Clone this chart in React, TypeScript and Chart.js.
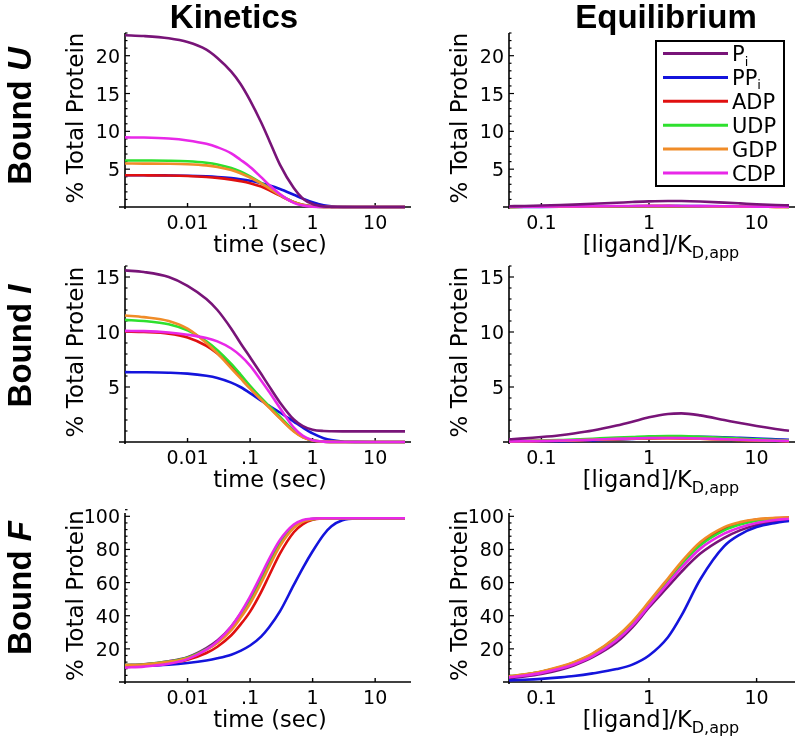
import React, { useEffect, useRef } from "react";
import { Chart, registerables } from "chart.js";

Chart.register(...registerables);

// ---------- series meta ----------
const seriesNames = ["Pi", "PPi", "ADP", "UDP", "GDP", "CDP"];
const seriesColors = ["#781478", "#1414dc", "#e01010", "#2ee02e", "#f08c28", "#e828e8"];

// ---------- x grids ----------
const kinTime = [0.001, 0.002, 0.005, 0.01, 0.02, 0.03, 0.05, 0.07, 0.1, 0.15, 0.2, 0.3, 0.5, 0.7, 1, 1.5, 2, 3, 5, 10, 30];
const eqRatio = [0.05, 0.07, 0.1, 0.15, 0.2, 0.3, 0.5, 0.7, 1, 1.5, 2, 3, 5, 7, 10, 15, 20];

// ---------- Kinetics, Bound U ----------
const kinU_Pi = [22.7, 22.6, 22.3, 21.8, 20.8, 19.7, 17.9, 16.3, 14.1, 11.2, 8.9, 5.6, 2.5, 1.1, 0.4, 0.08, 0.02, 0, 0, 0, 0];
const kinU_PPi = [4.2, 4.2, 4.17, 4.13, 4.05, 3.97, 3.82, 3.67, 3.47, 3.15, 2.87, 2.38, 1.62, 1.11, 0.63, 0.24, 0.09, 0.01, 0, 0, 0];
const kinU_ADP = [4.2, 4.19, 4.16, 4.1, 3.97, 3.85, 3.62, 3.42, 3.15, 2.7, 2.25, 1.5, 0.65, 0.3, 0.1, 0.02, 0, 0, 0, 0, 0];
const kinU_UDP = [6.15, 6.14, 6.12, 6.05, 5.85, 5.62, 5.15, 4.7, 4.05, 3.2, 2.55, 1.6, 0.65, 0.27, 0.07, 0.01, 0, 0, 0, 0, 0];
const kinU_GDP = [5.75, 5.74, 5.72, 5.66, 5.5, 5.3, 4.88, 4.47, 3.9, 3.12, 2.5, 1.57, 0.63, 0.26, 0.07, 0.01, 0, 0, 0, 0, 0];
const kinU_CDP = [9.2, 9.18, 9.05, 8.8, 8.35, 7.9, 7.1, 6.25, 5.3, 3.95, 2.95, 1.7, 0.55, 0.19, 0.04, 0, 0, 0, 0, 0, 0];

// ---------- Kinetics, Bound I ----------
const kinI_Pi = [15.6, 15.45, 15.0, 14.2, 13.0, 12.0, 10.3, 9.0, 7.7, 6.2, 5.1, 3.6, 2.05, 1.45, 1.12, 1.0, 0.98, 0.97, 0.97, 0.97, 0.97];
const kinI_PPi = [6.35, 6.34, 6.3, 6.22, 6.02, 5.82, 5.4, 5.0, 4.45, 3.75, 3.3, 2.68, 1.85, 1.3, 0.78, 0.35, 0.17, 0.05, 0.01, 0, 0];
const kinI_ADP = [10.05, 10.0, 9.85, 9.5, 8.75, 8.05, 6.9, 6.0, 4.95, 3.9, 3.2, 2.2, 1.0, 0.45, 0.14, 0.03, 0.01, 0, 0, 0, 0];
const kinI_UDP = [11.1, 11.0, 10.7, 10.15, 9.15, 8.35, 7.1, 6.15, 5.1, 4.0, 3.3, 2.3, 1.05, 0.47, 0.15, 0.03, 0.01, 0, 0, 0, 0];
const kinI_GDP = [11.5, 11.35, 11.0, 10.3, 9.0, 8.05, 6.7, 5.8, 4.85, 3.85, 3.15, 2.15, 0.95, 0.42, 0.13, 0.03, 0.01, 0, 0, 0, 0];
const kinI_CDP = [10.1, 10.08, 9.95, 9.75, 9.45, 9.15, 8.5, 7.85, 6.95, 5.6, 4.6, 3.1, 1.3, 0.55, 0.16, 0.03, 0.01, 0, 0, 0, 0];

// ---------- Kinetics, Bound F ----------
const kinF_Pi = [10.2, 10.7, 12.5, 15.0, 20.5, 25, 33.5, 41, 50.5, 63, 72.5, 84.5, 94.3, 97.3, 98.4, 98.8, 98.8, 98.8, 98.8, 98.8, 98.8];
const kinF_PPi = [9.6, 9.8, 10.5, 11.5, 13.0, 14.3, 16.5, 18.8, 22.0, 27.4, 32.9, 42.6, 58.6, 68.9, 78.9, 88.9, 94.0, 97.6, 98.7, 98.8, 98.8];
const kinF_ADP = [9.9, 10.3, 11.5, 13.5, 17.5, 21.3, 28.2, 34.6, 42.5, 54.3, 64, 77.5, 90.4, 95.3, 97.9, 98.7, 98.8, 98.8, 98.8, 98.8, 98.8];
const kinF_UDP = [10.2, 10.6, 12.3, 14.6, 19.8, 24, 32, 39.5, 48.5, 61, 70.5, 83, 93.5, 97, 98.3, 98.7, 98.8, 98.8, 98.8, 98.8, 98.8];
const kinF_GDP = [10.2, 10.6, 12.2, 14.4, 19.4, 23.5, 31.3, 38.6, 47.4, 59.8, 69.3, 82, 93, 96.8, 98.2, 98.7, 98.8, 98.8, 98.8, 98.8, 98.8];
const kinF_CDP = [8.7, 9.3, 11.0, 13.8, 19.5, 24.5, 33.5, 41.5, 51.5, 64.5, 74, 85.7, 95, 97.8, 98.6, 98.8, 98.8, 98.8, 98.8, 98.8, 98.8];

// ---------- Equilibrium, Bound U ----------
const eqU_Pi = [0.1, 0.14, 0.19, 0.26, 0.32, 0.42, 0.56, 0.66, 0.75, 0.8, 0.79, 0.72, 0.58, 0.48, 0.37, 0.27, 0.21];
const eqU_PPi = [0.01, 0.015, 0.02, 0.03, 0.04, 0.05, 0.07, 0.08, 0.1, 0.11, 0.12, 0.11, 0.09, 0.07, 0.05, 0.04, 0.03];
const eqU_ADP = [0.02, 0.025, 0.03, 0.04, 0.05, 0.07, 0.09, 0.1, 0.11, 0.11, 0.1, 0.09, 0.06, 0.05, 0.03, 0.02, 0.01];
const eqU_UDP = [0.02, 0.03, 0.04, 0.05, 0.06, 0.08, 0.1, 0.11, 0.12, 0.12, 0.11, 0.09, 0.07, 0.05, 0.04, 0.03, 0.02];
const eqU_GDP = [0.02, 0.025, 0.03, 0.04, 0.05, 0.07, 0.09, 0.1, 0.11, 0.11, 0.1, 0.09, 0.06, 0.05, 0.03, 0.02, 0.01];
const eqU_CDP = [0.03, 0.04, 0.05, 0.065, 0.08, 0.1, 0.13, 0.14, 0.15, 0.15, 0.14, 0.12, 0.09, 0.07, 0.05, 0.04, 0.03];

// ---------- Equilibrium, Bound I ----------
const eqI_Pi = [0.25, 0.33, 0.45, 0.62, 0.78, 1.05, 1.5, 1.85, 2.25, 2.55, 2.6, 2.42, 2.0, 1.72, 1.45, 1.18, 1.02];
const eqI_PPi = [0.03, 0.04, 0.06, 0.08, 0.1, 0.15, 0.22, 0.28, 0.35, 0.42, 0.46, 0.47, 0.43, 0.38, 0.32, 0.25, 0.2];
const eqI_ADP = [0.05, 0.07, 0.09, 0.12, 0.15, 0.2, 0.26, 0.3, 0.33, 0.34, 0.33, 0.3, 0.23, 0.19, 0.15, 0.11, 0.08];
const eqI_UDP = [0.08, 0.1, 0.13, 0.18, 0.22, 0.3, 0.4, 0.46, 0.52, 0.55, 0.54, 0.48, 0.38, 0.31, 0.25, 0.18, 0.14];
const eqI_GDP = [0.05, 0.07, 0.09, 0.12, 0.15, 0.2, 0.26, 0.3, 0.34, 0.35, 0.34, 0.3, 0.23, 0.19, 0.15, 0.11, 0.08];
const eqI_CDP = [0.05, 0.07, 0.09, 0.13, 0.16, 0.21, 0.28, 0.32, 0.36, 0.37, 0.36, 0.32, 0.25, 0.2, 0.16, 0.12, 0.09];

// ---------- Equilibrium, Bound F ----------
const eqF_Pi = [2.3, 3.3, 4.8, 7.4, 10, 15, 24, 33, 45, 57.5, 66.5, 77.5, 87, 91.5, 94.8, 97, 98];
const eqF_PPi = [1.0, 1.35, 1.9, 2.8, 3.6, 5.2, 7.8, 10.5, 16, 27, 40, 62, 82, 89, 93.5, 96, 97.2];
const eqF_ADP = [3.2, 4.4, 6.1, 8.9, 11.6, 16.8, 26.8, 35.8, 47.5, 61.5, 71.5, 83.5, 92.8, 96, 98, 98.9, 99.2];
const eqF_UDP = [3.3, 4.5, 6.2, 9.0, 11.7, 16.9, 26.9, 35.8, 47.5, 61, 71, 82.5, 91.5, 95, 97.3, 98.5, 99];
const eqF_GDP = [3.4, 4.6, 6.4, 9.3, 12.0, 17.3, 27.5, 36.5, 48.5, 62.5, 72.5, 84.5, 93.5, 96.5, 98.2, 99.0, 99.3];
const eqF_CDP = [2.8, 3.9, 5.5, 8.1, 10.6, 15.6, 25.2, 34, 46, 59.5, 69, 80.5, 89.5, 93.3, 96, 97.8, 98.5];

// ---------- tick labels ----------
const kinTickValues = [0.01, 0.1, 1, 10];
const kinTickLabels = ["0.01", ".1", "1", "10"];
const eqTickValues = [0.1, 1, 10];
const eqTickLabels = ["0.1", "1", "10"];

const columnTitles = ["Kinetics", "Equilibrium"];
const rowLabels = ["U", "I", "F"];

// ---------- layout (page coordinates) ----------
const COLS = [
  { cx: 0, w: 420, left: 125, right: 405, xmin: 0.001, xmax: 30, titleCenter: 270, headX: 234 },
  { cx: 420, w: 376, left: 509, right: 789, xmin: 0.05, xmax: 20, titleCenter: 661, headX: 666 },
];
const ROWS = [
  { cy: 0, h: 262, top: 33, bottom: 207, ymax: 23, major: 5, minor: 1, labelY: 116 },
  { cy: 258, h: 242, top: 266, bottom: 442, ymax: 16, major: 5, minor: 1, labelY: 346 },
  { cy: 500, h: 244, top: 513, bottom: 682, ymax: 102, major: 20, minor: 4, labelY: 588 },
];

const panelSeries = [
  [
    [kinU_Pi, kinU_PPi, kinU_ADP, kinU_UDP, kinU_GDP, kinU_CDP],
    [eqU_Pi, eqU_PPi, eqU_ADP, eqU_UDP, eqU_GDP, eqU_CDP],
  ],
  [
    [kinI_Pi, kinI_PPi, kinI_ADP, kinI_UDP, kinI_GDP, kinI_CDP],
    [eqI_Pi, eqI_PPi, eqI_ADP, eqI_UDP, eqI_GDP, eqI_CDP],
  ],
  [
    [kinF_Pi, kinF_PPi, kinF_ADP, kinF_UDP, kinF_GDP, kinF_CDP],
    [eqF_Pi, eqF_PPi, eqF_ADP, eqF_UDP, eqF_GDP, eqF_CDP],
  ],
];

const FONT = "'DejaVu Sans', 'Liberation Sans', sans-serif";
const BOLD = "'Liberation Sans', Arial, sans-serif";

function drawRotated(ctx: CanvasRenderingContext2D, parts: { text: string; font: string }[], bx: number, cy: number) {
  ctx.save();
  ctx.translate(bx, cy);
  ctx.rotate(-Math.PI / 2);
  ctx.textAlign = "left";
  ctx.textBaseline = "alphabetic";
  let total = 0;
  const widths = parts.map((p) => {
    ctx.font = p.font;
    const w = ctx.measureText(p.text).width;
    total += w;
    return w;
  });
  let x = -total / 2;
  parts.forEach((p, i) => {
    ctx.font = p.font;
    ctx.fillText(p.text, x, 0);
    x += widths[i];
  });
  ctx.restore();
}

function Panel({ row, col }: { row: number; col: number }) {
  const ref = useRef<HTMLCanvasElement>(null);
  const C = COLS[col];
  const R = ROWS[row];
  useEffect(() => {
    const xs = col === 0 ? kinTime : eqRatio;
    const series = panelSeries[row][col];
    const datasets = series.map((vals, i) => ({
      label: seriesNames[i],
      data: vals.map((v, k) => ({ x: xs[k], y: v })),
      borderColor: seriesColors[i],
      backgroundColor: seriesColors[i],
      borderWidth: 2.6,
      pointRadius: 0,
      fill: false,
      cubicInterpolationMode: "monotone" as const,
      clip: false as any,
      order: row < 2 && i === 0 ? -1 : 5 - i,
    }));

    const tickVals = col === 0 ? kinTickValues : eqTickValues;
    const tickLabs = col === 0 ? kinTickLabels : eqTickLabels;

    const axesPlugin = {
      id: "mmaAxes",
      beforeDatasetsDraw(chart: any) {
        const ctx: CanvasRenderingContext2D = chart.ctx;
        const ca = chart.chartArea;
        const sx = chart.scales.x;
        const sy = chart.scales.y;
        ctx.save();
        ctx.strokeStyle = "#000";
        ctx.fillStyle = "#000";
        ctx.lineWidth = 1.6;
        ctx.beginPath();
        ctx.moveTo(ca.left - 6, ca.bottom);
        ctx.lineTo(Math.min(ca.right + 6, chart.width - 1), ca.bottom);
        ctx.stroke();
        ctx.beginPath();
        ctx.moveTo(ca.left, ca.top);
        ctx.lineTo(ca.left, ca.bottom + 2);
        ctx.stroke();
        // y ticks (major + minor, drawn inward)
        ctx.lineWidth = 1.2;
        const n = Math.round(R.ymax / R.minor);
        for (let i = 1; i <= n; i++) {
          const v = i * R.minor;
          const py = sy.getPixelForValue(v);
          const major = v % R.major === 0;
          ctx.beginPath();
          ctx.moveTo(ca.left, py);
          ctx.lineTo(ca.left + (major ? 5 : 2.5), py);
          ctx.stroke();
        }
        // x ticks
        ctx.lineWidth = 1.4;
        tickVals.forEach((t) => {
          const px = sx.getPixelForValue(t);
          ctx.beginPath();
          ctx.moveTo(px, ca.bottom);
          ctx.lineTo(px, ca.bottom - 4);
          ctx.stroke();
        });
        // y tick labels
        ctx.font = `19px ${FONT}`;
        ctx.textAlign = "right";
        ctx.textBaseline = "alphabetic";
        for (let v = R.major; v <= R.ymax; v += R.major) {
          const py = sy.getPixelForValue(v);
          ctx.fillText(String(v), ca.left - 5, py + 7);
        }
        // x tick labels
        ctx.textAlign = "center";
        tickVals.forEach((t, i) => {
          const px = sx.getPixelForValue(t);
          ctx.fillText(tickLabs[i], px, ca.bottom + 22);
        });
        // x title
        const tx = C.titleCenter - C.cx;
        const ty = ca.bottom + 45;
        if (col === 0) {
          ctx.font = `22.5px ${FONT}`;
          ctx.textAlign = "center";
          ctx.fillText("time (sec)", tx, ty);
        } else {
          ctx.font = `22.5px ${FONT}`;
          const main = "[ligand]/K";
          const wMain = ctx.measureText(main).width;
          ctx.font = `16px ${FONT}`;
          const sub = "D,app";
          const wSub = ctx.measureText(sub).width;
          const start = tx - (wMain + wSub) / 2;
          ctx.textAlign = "left";
          ctx.font = `22.5px ${FONT}`;
          ctx.fillText(main, start, ty);
          ctx.font = `16px ${FONT}`;
          ctx.fillText(sub, start + wMain, ty + 6);
        }
        // y title
        drawRotated(ctx, [{ text: "% Total Protein", font: `23px ${FONT}` }], ca.left - 42, (ca.top + ca.bottom) / 2 - 2);
        // row label
        if (col === 0) {
          drawRotated(
            ctx,
            [
              { text: "Bound ", font: `bold 33px ${BOLD}` },
              { text: rowLabels[row], font: `italic bold 33px ${BOLD}` },
            ],
            30.5,
            R.labelY - R.cy
          );
        }
        // column title
        if (row === 0) {
          ctx.font = `bold 33px ${BOLD}`;
          ctx.textAlign = "center";
          ctx.fillText(columnTitles[col], C.headX - C.cx, 28);
        }
        ctx.restore();
      },
      afterDraw(chart: any) {
        if (!(row === 0 && col === 1)) return;
        const ctx: CanvasRenderingContext2D = chart.ctx;
        const ox = C.cx;
        const oy = R.cy;
        ctx.save();
        ctx.fillStyle = "#fff";
        ctx.fillRect(656 - ox, 41 - oy, 128, 145);
        ctx.strokeStyle = "#000";
        ctx.lineWidth = 2;
        ctx.strokeRect(656 - ox, 41 - oy, 128, 145);
        const labels = [
          ["P", "i"],
          ["PP", "i"],
          ["ADP", ""],
          ["UDP", ""],
          ["GDP", ""],
          ["CDP", ""],
        ];
        labels.forEach((lab, i) => {
          const y = 53.5 + i * 23.9 - oy;
          ctx.strokeStyle = seriesColors[i];
          ctx.lineWidth = 3;
          ctx.beginPath();
          ctx.moveTo(663 - ox, y);
          ctx.lineTo(728 - ox, y);
          ctx.stroke();
          ctx.fillStyle = "#000";
          ctx.textAlign = "left";
          ctx.textBaseline = "alphabetic";
          ctx.font = `21px ${FONT}`;
          ctx.fillText(lab[0], 732 - ox, y + 7.5);
          if (lab[1]) {
            const w = ctx.measureText(lab[0]).width;
            ctx.font = `13px ${FONT}`;
            ctx.fillText(lab[1], 732 - ox + w, y + 12);
          }
        });
        ctx.restore();
      },
    };

    const chart = new Chart(ref.current as HTMLCanvasElement, {
      type: "line",
      data: { datasets: datasets as any },
      options: {
        animation: false,
        responsive: false,
        devicePixelRatio: 1,
        events: [],
        layout: {
          padding: {
            left: C.left - C.cx,
            right: C.cx + C.w - C.right,
            top: R.top - R.cy,
            bottom: R.cy + R.h - R.bottom,
          },
        },
        plugins: { legend: { display: false }, tooltip: { enabled: false } },
        scales: {
          x: { type: "logarithmic", min: C.xmin, max: C.xmax, display: false },
          y: { type: "linear", min: 0, max: R.ymax, display: false },
        },
      },
      plugins: [axesPlugin as any],
    });
    return () => chart.destroy();
  }, []);
  return (
    <canvas
      ref={ref}
      width={C.w}
      height={R.h}
      style={{ position: "absolute", left: C.cx, top: R.cy, width: C.w, height: R.h }}
    />
  );
}

export default function App() {
  const cells: JSX.Element[] = [];
  for (let r = 0; r < 3; r++) for (let c = 0; c < 2; c++) cells.push(<Panel key={`${r}-${c}`} row={r} col={c} />);
  return (
    <div style={{ position: "absolute", left: 0, top: 0, width: 796, height: 744, background: "#fff", overflow: "hidden" }}>
      {cells}
    </div>
  );
}
